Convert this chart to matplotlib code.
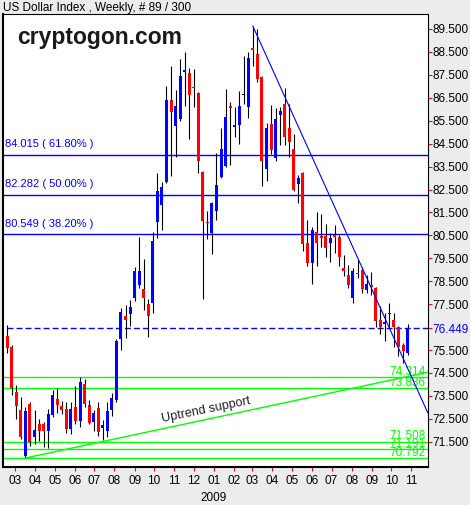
import numpy as np
import pandas as pd
import matplotlib
matplotlib.use('Agg')
import matplotlib.pyplot as plt
import matplotlib.dates as mdates

plt.rcParams['font.family'] = ['Liberation Sans', 'DejaVu Sans']

# weekly bars (89 of them, Monday dated)
weeks = pd.date_range('2008-02-18', periods=89, freq='7D')

opens = [76.11, 75.63, 73.67, 72.88, 70.89, 73.15, 71.72, 72.27, 72.27, 71.98,
         72.67, 73.36, 73.06, 72.94, 72.04, 73.02, 72.42, 74.02, 73.10, 72.37,
         72.99, 72.11, 71.98, 72.88, 73.32, 75.98, 76.98, 77.07, 77.78, 78.34,
         78.16, 77.52, 77.57, 81.10, 81.82, 82.84, 86.40, 85.27, 85.56, 87.64,
         87.57, 86.99, 86.70, 83.28, 81.10, 80.59, 81.58, 83.06, 83.52, 86.14,
         85.24, 85.33, 86.61, 86.11, 88.66, 88.41, 87.39, 83.41, 85.36, 83.89,
         85.75, 86.23, 85.20, 84.27, 82.73, 83.20, 80.18, 79.28, 80.63, 80.47,
         80.47, 80.15, 80.53, 80.42, 79.06, 78.77, 77.75, 78.88, 78.99, 78.12,
         78.32, 78.19, 76.81, 76.63, 77.05, 76.81, 76.52, 75.72, 75.38]
highs = [76.59, 75.72, 73.98, 73.44, 73.00, 73.23, 72.88, 72.48, 72.38, 72.91,
         73.76, 73.86, 73.28, 73.23, 73.22, 73.95, 74.34, 74.22, 73.32, 72.88,
         73.25, 72.45, 73.25, 73.61, 75.97, 77.35, 77.46, 77.68, 79.13, 80.42,
         79.46, 77.72, 80.66, 83.21, 82.84, 87.01, 87.89, 86.84, 88.18, 88.51,
         87.78, 87.76, 86.77, 83.32, 81.56, 81.97, 84.08, 85.17, 86.87, 86.33,
         86.11, 86.80, 88.32, 88.51, 89.62, 89.48, 87.45, 85.38, 86.19, 86.04,
         86.08, 86.91, 86.23, 84.92, 83.13, 83.25, 81.17, 80.85, 81.50, 81.43,
         81.00, 80.62, 80.95, 80.52, 79.64, 79.21, 79.06, 79.43, 79.11, 78.77,
         78.92, 78.26, 77.42, 77.10, 77.54, 77.10, 76.55, 75.82, 76.63]
lows = [75.38, 73.54, 72.48, 71.60, 70.792, 71.33, 71.40, 71.55, 71.29, 71.23,
        72.59, 72.74, 72.71, 71.87, 71.84, 72.27, 72.16, 73.00, 72.27, 71.98,
        71.75, 71.58, 71.72, 72.62, 73.25, 75.50, 76.04, 76.55, 77.65, 78.19,
        77.24, 76.09, 77.13, 80.37, 80.73, 82.77, 83.09, 83.93, 85.50, 86.14,
        84.69, 86.11, 83.23, 77.71, 80.33, 79.67, 81.17, 82.99, 83.50, 83.57,
        84.77, 84.48, 86.23, 85.63, 87.89, 87.20, 82.67, 82.89, 84.05, 83.76,
        84.44, 84.44, 83.90, 82.45, 81.90, 79.83, 79.18, 78.36, 79.17, 79.98,
        79.57, 79.35, 79.72, 79.17, 78.73, 78.19, 77.54, 78.63, 77.97, 77.97,
        77.90, 76.52, 76.20, 75.91, 76.52, 75.65, 75.25, 74.94, 75.28]
closes = [75.60, 73.83, 73.06, 71.72, 72.84, 71.50, 72.01, 71.95, 71.95, 72.71,
          73.54, 73.10, 72.88, 72.06, 72.93, 72.42, 74.12, 73.15, 72.33, 72.74,
          71.94, 72.23, 72.84, 73.39, 75.91, 77.17, 76.81, 77.36, 78.95, 78.95,
          77.78, 77.00, 80.27, 82.43, 82.61, 86.40, 85.90, 86.14, 87.45, 87.71,
          86.62, 86.93, 83.76, 81.14, 81.04, 81.89, 82.70, 84.25, 85.65, 86.07,
          85.31, 86.14, 86.61, 88.22, 88.58, 87.32, 83.76, 85.20, 84.22, 85.57,
          85.94, 84.77, 84.59, 82.48, 82.99, 80.11, 79.31, 80.73, 80.18, 80.40,
          79.96, 80.40, 80.45, 79.54, 78.96, 78.34, 78.96, 78.82, 78.15, 78.38,
          78.25, 76.78, 76.52, 76.74, 77.07, 76.52, 75.62, 75.47, 76.449]

# fibonacci retracement levels
fib_levels = [84.015, 82.282, 80.549]
fib_pcts = ['61.80%', '50.00%', '38.20%']

# green support levels
green_levels = [74.314, 73.836, 71.508, 71.191, 70.792]

last_close = 76.449

# price axis ticks (76.500 is hidden behind the last close label)
price_ticks = [71.5, 72.5, 73.5, 74.5, 75.5, 77.5, 78.5, 79.5, 80.5,
               81.5, 82.5, 83.5, 84.5, 85.5, 86.5, 87.5, 88.5, 89.5]

# trend lines (date, value) anchors
uptrend_dates = ['2008-03-17', '2009-11-26']
uptrend_vals = [70.792, 74.53]
downtrend_dates = ['2009-03-02', '2009-11-26']
downtrend_vals = [89.62, 72.77]

x_left = mdates.date2num(pd.Timestamp('2008-02-11'))
x_right = mdates.date2num(pd.Timestamp('2009-11-26'))

fig = plt.figure(figsize=(4.7, 5.05), dpi=100, facecolor='#ececec')
ax = fig.add_axes([2.7 / 470, 38 / 505, 425 / 470, 452.7 / 505])
ax.set_facecolor('white')

x = mdates.date2num(weeks)
o = np.array(opens)
h = np.array(highs)
l = np.array(lows)
c = np.array(closes)

colors = np.where(c > o, '#0000ff', '#ff0000').astype(object)
colors[c == o] = 'black'

# wicks then bodies
ax.vlines(x, l, h, color='black', lw=0.8, zorder=3)
body_bottom = np.minimum(o, c)
body_h = np.maximum(np.abs(c - o), 0.045)
ax.bar(x, body_h, bottom=body_bottom, width=4.6, color=list(colors), lw=0, zorder=4)

# fib lines + labels
for lev, pct in zip(fib_levels, fib_pcts):
    ax.axhline(lev, color='#0000ff', lw=1, zorder=2)
    ax.annotate(f'{lev:.3f} ( {pct} )', xy=(0, lev), xycoords=ax.get_yaxis_transform(),
                xytext=(1.5, 4), textcoords='offset points', color='#0000ff',
                fontsize=8, va='bottom', ha='left')

# green levels + labels on the right
for lev in green_levels:
    ax.axhline(lev, color='#00ff00', lw=1, zorder=2)
    ax.annotate(f'{lev:.3f}', xy=(1, lev), xycoords=ax.get_yaxis_transform(),
                xytext=(-1.5, -0.5), textcoords='offset points', color='#00ff00',
                fontsize=8.5, va='bottom', ha='right')

# last close dashed line
ax.hlines(last_close, x[0], x_right, colors='#0000ff', lw=1, linestyles=(0, (4.3, 2.2)), zorder=2)

# trend lines
ax.plot(mdates.date2num(pd.to_datetime(uptrend_dates)), uptrend_vals, color='#00ff00', lw=1, zorder=5)
ax.plot(mdates.date2num(pd.to_datetime(downtrend_dates)), downtrend_vals, color='#0000ff', lw=0.8, zorder=5)
ax.text(mdates.date2num(pd.Timestamp('2008-12-20')), 72.9, 'Uptrend support', rotation=11.6,
        rotation_mode='anchor', ha='center', va='center', fontsize=9, color='#222222')

ax.set_xlim(x_left, x_right)
ax.set_ylim(70.40, 90.14)

# right price axis
yt = price_ticks + [last_close]
ax.yaxis.tick_right()
ax.set_yticks(yt)
ax.set_yticklabels([f'{v:.3f}' for v in yt])
ax.tick_params(axis='y', length=3, color='#ff0000', pad=0.5, labelsize=8.5)
ax.get_yticklabels()[-1].set_color('#0000ff')
ax.yaxis.get_major_ticks()[-1].tick2line.set_color('#0000ff')

# month axis
ax.xaxis.set_major_locator(mdates.MonthLocator())
ax.xaxis.set_major_formatter(mdates.DateFormatter('%m'))
ax.tick_params(axis='x', length=3, color='#ff0000', pad=3, labelsize=8.5)
ax.text(mdates.date2num(pd.Timestamp('2009-01-01')), -0.055, '2009', transform=ax.get_xaxis_transform(),
        ha='center', va='top', fontsize=8.5)

for side in ['left', 'bottom']:
    ax.spines[side].set_linewidth(1.5)
for side in ['top', 'right']:
    ax.spines[side].set_linewidth(0.8)

fig.text(3 / 470, 1 - 7.5 / 505, 'US Dollar Index , Weekly, # 89 / 300', va='center', ha='left', fontsize=8.5)
fig.text(17 / 470, 1 - 44.3 / 505, 'cryptogon.com', fontsize=16.5, fontweight='bold',
         color='#1a1a1a', va='baseline', ha='left')

fig.savefig('out.png', dpi=100, facecolor=fig.get_facecolor())
